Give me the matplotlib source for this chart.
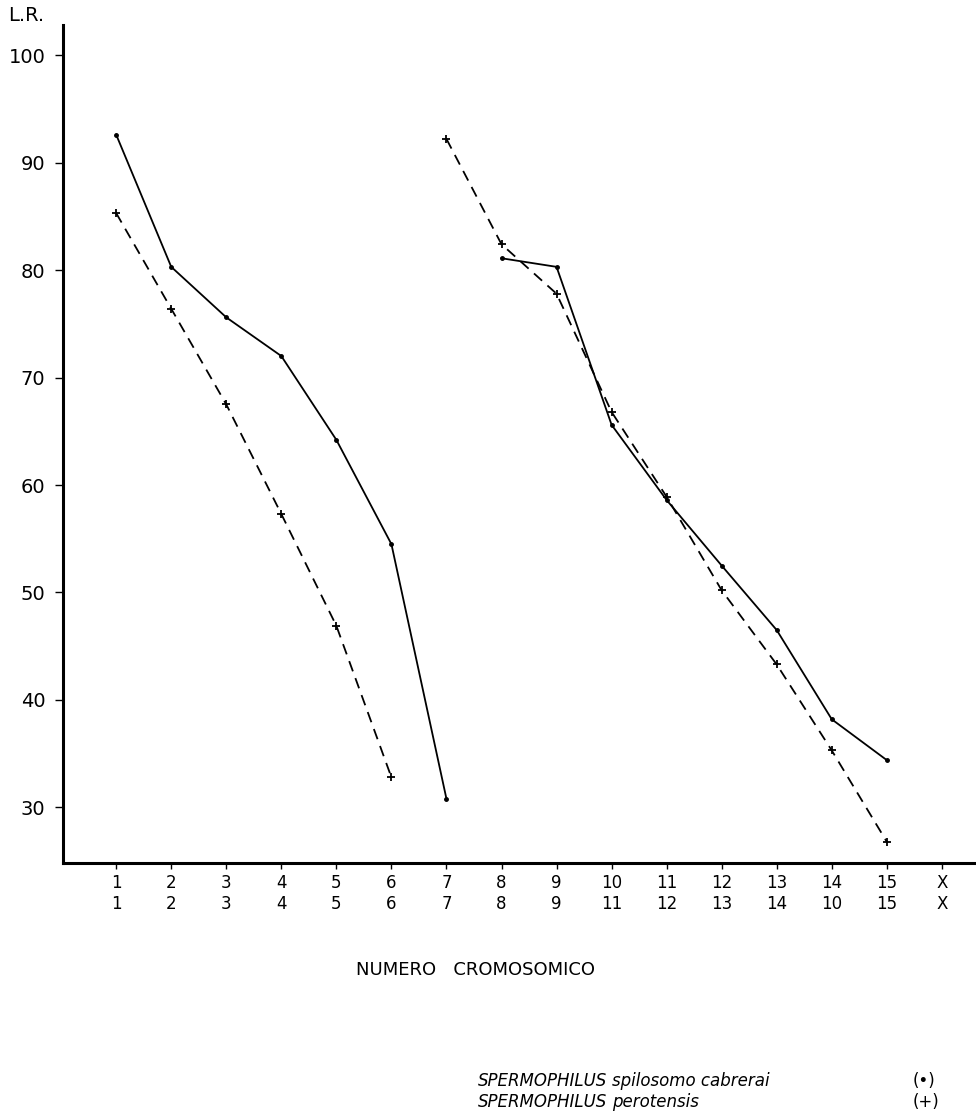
from matplotlib import pyplot as plt
import numpy as np

plt.rcParams['font.family'] = 'DejaVu Sans'
plt.rcParams['font.size'] = 12

# chromosome positions (1..15 and X at 16)
pos = np.arange(1, 17)
top_labels = ['1', '2', '3', '4', '5', '6', '7', '8', '9', '10', '11', '12', '13', '14', '15', 'X']
bot_labels = ['1', '2', '3', '4', '5', '6', '7', '8', '9', '11', '12', '13', '14', '10', '15', 'X']

# S. spilosoma cabrerai (solid, dots)
cab_a_x = [1, 2, 3, 4, 5, 6, 7]
cab_a_y = [92.6, 80.3, 75.6, 72.0, 64.2, 54.5, 30.8]
cab_b_x = [8, 9, 10, 11, 12, 13, 14, 15]
cab_b_y = [81.1, 80.3, 65.6, 58.6, 52.5, 46.5, 38.2, 34.4]

# S. perotensis (dashed, crosses)
per_a_x = [1, 2, 3, 4, 5, 6]
per_a_y = [85.3, 76.4, 67.5, 57.3, 46.9, 32.8]
per_b_x = [7, 8, 9, 10, 11, 12, 13, 14, 15]
per_b_y = [92.2, 82.4, 77.8, 66.8, 58.9, 50.2, 43.3, 35.3, 26.8]

yticks = [30, 40, 50, 60, 70, 80, 90, 100]

fig = plt.figure(figsize=(9.76, 11.18), dpi=100)
ax = fig.add_axes([0.0649, 0.2278, 0.9351, 0.7498])

solid = dict(color='k', lw=1.3, ls='-', marker='.', ms=5)
dash = dict(color='k', lw=1.3, ls=(0, (6, 4)), marker='+', ms=6, mew=1.3)
ax.plot(cab_a_x, cab_a_y, **solid)
ax.plot(cab_b_x, cab_b_y, **solid)
ax.plot(per_a_x, per_a_y, **dash)
ax.plot(per_b_x, per_b_y, **dash)

ax.set_xlim(0.04, 16.62)
ax.set_ylim(24.8, 102.8)

for s in ['top', 'right']:
    ax.spines[s].set_visible(False)
ax.spines['left'].set_linewidth(2.2)
ax.spines['bottom'].set_linewidth(2.2)

ax.set_yticks(yticks)
ax.set_yticklabels([str(v) for v in yticks], fontsize=14)
ax.tick_params(axis='y', length=6, width=1, pad=7)

ax.set_xticks(pos)
ax.set_xticklabels([t + '\n' + b for t, b in zip(top_labels, bot_labels)],
                   fontsize=12, linespacing=1.15)
ax.tick_params(axis='x', length=4, width=1, pad=4)

fig.text(0.008, 0.978, 'L.R.', fontsize=14, ha='left', va='bottom')
fig.text(0.487, 0.132, 'NUMERO   CROMOSOMICO', fontsize=13, ha='center', va='center')

fig.text(0.490, 0.033, 'SPERMOPHILUS', fontsize=12, style='italic', ha='left', va='center')
fig.text(0.627, 0.033, 'spilosomo cabrerai', fontsize=12, style='italic', ha='left', va='center')
fig.text(0.935, 0.033, '(•)', fontsize=12, ha='left', va='center')
fig.text(0.490, 0.014, 'SPERMOPHILUS', fontsize=12, style='italic', ha='left', va='center')
fig.text(0.627, 0.014, 'perotensis', fontsize=12, style='italic', ha='left', va='center')
fig.text(0.935, 0.014, '(+)', fontsize=12, ha='left', va='center')

plt.savefig('out.png', dpi=100)
plt.close()
